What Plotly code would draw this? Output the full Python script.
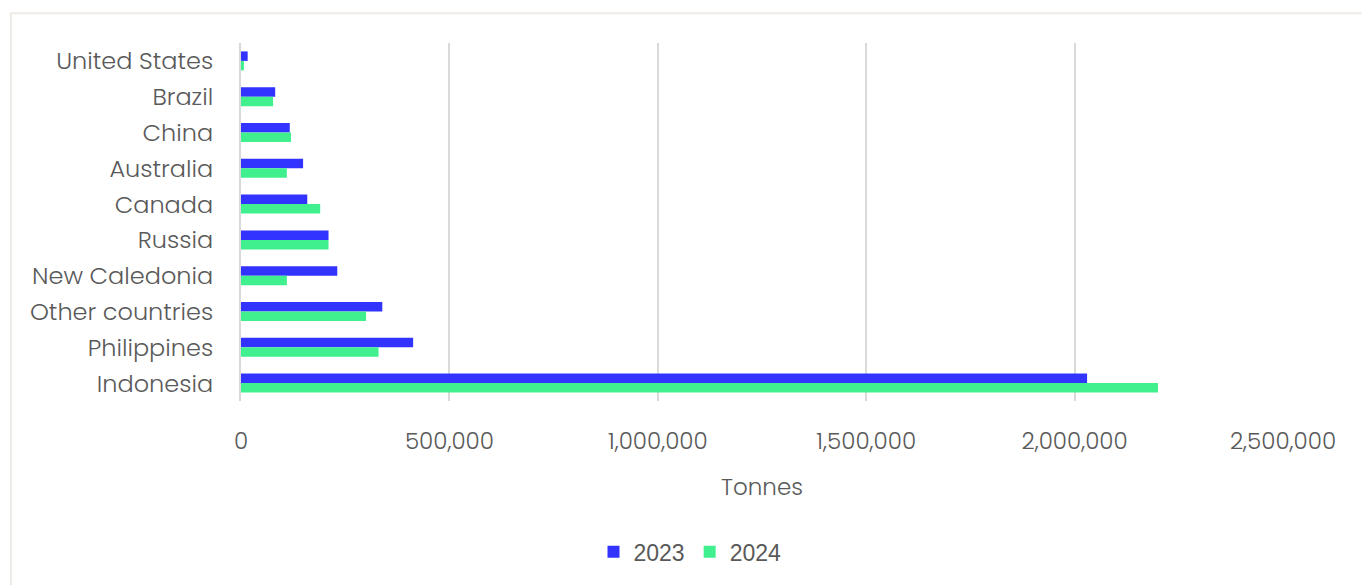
import plotly.graph_objects as go

# Nickel production by country, tonnes
countries = ["United States", "Brazil", "China", "Australia", "Canada",
             "Russia", "New Caledonia", "Other countries", "Philippines", "Indonesia"]
prod_2023 = [16000, 82000, 117000, 149000, 159000, 210000, 231000, 339000, 413000, 2030000]
prod_2024 = [7000, 77000, 120000, 110000, 190000, 210000, 110000, 300000, 330000, 2200000]
x_ticks = [0, 500000, 1000000, 1500000, 2000000, 2500000]
x_tick_text = ["0", "500,000", "1,000,000", "1,500,000", "2,000,000", "2,500,000"]

W, H = 1362, 585
L, R, T, B = 241, 79, 43, 181
pw, ph = W - L - R, H - T - B


def px_x(x):
    return (x - L) / pw


def px_y(y):
    return (H - B - y) / ph


fig = go.Figure()
fig.add_trace(go.Bar(y=countries, x=prod_2023, name="2023", orientation="h",
                     marker=dict(color="#3333FF", line=dict(width=0))))
fig.add_trace(go.Bar(y=countries, x=prod_2024, name="2024", orientation="h",
                     marker=dict(color="#40EF8E", line=dict(width=0))))

tick_font = dict(family="Poppins Light, Poppins, Lato, Open Sans, sans-serif",
                 size=23, color="#595959")
cat_font = dict(tick_font, size=24)

fig.update_layout(
    width=W, height=H,
    margin=dict(l=L, r=R, t=T, b=B),
    paper_bgcolor="white", plot_bgcolor="white",
    barmode="group", bargap=0.47, bargroupgap=0,
    xaxis=dict(range=[0, 2500000], tickvals=x_ticks, ticktext=x_tick_text,
               tickfont=tick_font, showgrid=True, gridcolor="#D9D9D9", gridwidth=2,
               zeroline=False, showline=False, ticks="", ticklabelstandoff=24,
               title=dict(text="Tonnes", font=tick_font, standoff=22)),
    yaxis=dict(autorange="reversed", tickfont=cat_font, showgrid=False,
               showline=True, linecolor="#D9D9D9", linewidth=2, ticks="",
               ticklabelstandoff=21),
    legend=dict(orientation="h", x=px_x(690), y=px_y(556), xanchor="center",
                yanchor="middle", font=dict(family="Liberation Sans, Arial", size=23,
                                            color="#595959"),
                itemwidth=30, tracegroupgap=0),
    showlegend=True,
    shapes=[dict(type="rect", xref="paper", yref="paper", x0=px_x(11), x1=px_x(1375),
                 y0=px_y(600), y1=px_y(13), line=dict(color="#EEEAE6", width=2),
                 fillcolor="rgba(0,0,0,0)", layer="below")],
)

fig.write_html("out.html")
